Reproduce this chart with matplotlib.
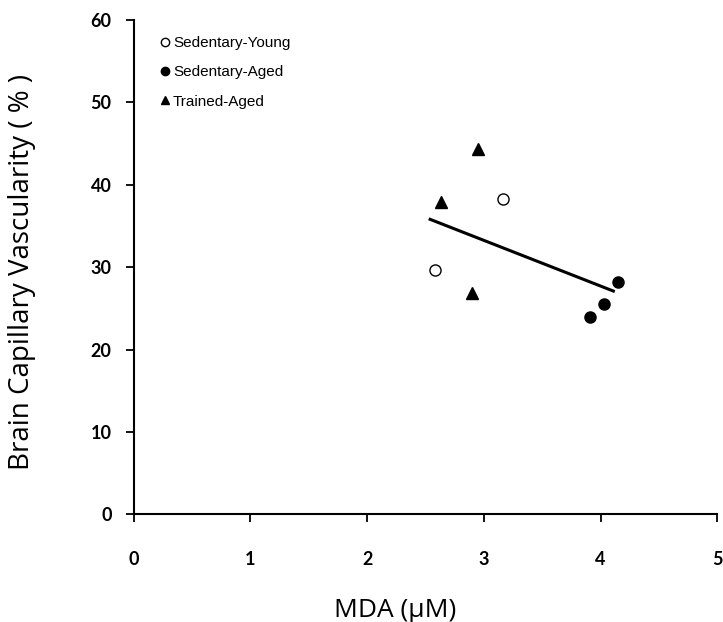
import matplotlib
matplotlib.use('Agg')
import matplotlib.pyplot as plt

# data
young_x = [2.58, 3.16]
young_y = [29.7, 38.3]
sed_aged_x = [3.91, 4.03, 4.15]
sed_aged_y = [23.9, 25.5, 28.2]
trained_x = [2.63, 2.95, 2.90]
trained_y = [37.9, 44.3, 26.9]
# regression line end points
fit_x = [2.54, 4.11]
fit_y = [35.8, 27.1]

x_ticks = [0, 1, 2, 3, 4, 5]
y_ticks = [0, 10, 20, 30, 40, 50, 60]

fig = plt.figure(figsize=(7.23, 6.22), dpi=100)
ax = fig.add_axes([0.185, 0.173, 0.807, 0.795])

ax.plot(young_x, young_y, 'o', mfc='white', mec='black', mew=1.0, ms=8, label='Sedentary-Young')
ax.plot(sed_aged_x, sed_aged_y, 'o', color='black', ms=8, label='Sedentary-Aged')
ax.plot(trained_x, trained_y, '^', color='black', ms=8, label='Trained-Aged')
ax.plot(fit_x, fit_y, '-', color='black', lw=2.2)

ax.set_xlim(0, 5)
ax.set_ylim(0, 60)
ax.set_xticks(x_ticks)
ax.set_yticks(y_ticks)
ax.spines['top'].set_visible(False)
ax.spines['right'].set_visible(False)
ax.spines['left'].set_linewidth(1.5)
ax.spines['bottom'].set_linewidth(1.5)
ax.tick_params(direction='out', length=6, width=1.3, labelsize=13)
ax.tick_params(axis='x', pad=20)
ax.tick_params(axis='y', pad=10)
for lab in ax.get_xticklabels() + ax.get_yticklabels():
    lab.set_fontfamily('Lato')
    lab.set_fontweight('bold')

ax.set_xlabel('MDA (\u03bcM)', fontsize=19, fontfamily='Open Sans')
ax.set_ylabel('Brain Capillary Vascularity ( % )', fontsize=20, fontfamily='Open Sans')
ax.xaxis.set_label_coords(0.448, -0.17)
ax.yaxis.set_label_coords(-0.168, 0.49)

leg = ax.legend(loc='upper left', bbox_to_anchor=(0.02, 0.995), frameon=False,
                prop={'family': 'Liberation Sans', 'size': 11},
                handletextpad=0.1, handlelength=0.8, markerscale=0.75, labelspacing=1.0)

fig.savefig('out.png', dpi=100)
